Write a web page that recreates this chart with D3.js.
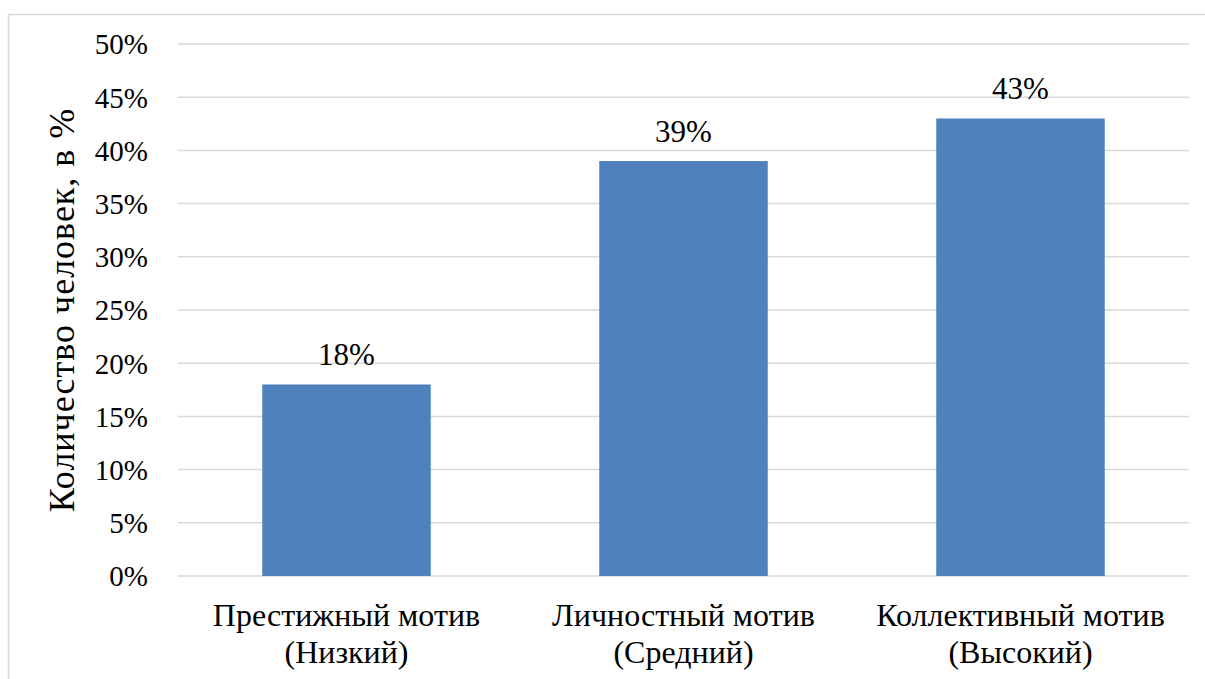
<!DOCTYPE html>
<html>
<head>
<meta charset="utf-8">
<script src="https://cdn.jsdelivr.net/npm/d3@7"></script>
<style>
  body { margin: 0; background: #fff; }
  svg text { font-family: "Times New Roman", "Liberation Serif", "DejaVu Serif", serif; fill: #000; }
</style>
</head>
<body>
<div id="chart"></div>
<script>
// data
const categories = ["Престижный мотив|(Низкий)", "Личностный мотив|(Средний)", "Коллективный мотив|(Высокий)"];
const values = [18, 39, 43];
const yTicks = [0, 5, 10, 15, 20, 25, 30, 35, 40, 45, 50];
const yTitle = "Количество человек, в %";

const width = 1205;
const height = 679;
const margin = { top: 44, right: 16, bottom: 103, left: 178 };

const svg = d3.select("#chart")
	.append("svg")
	.attr("width", width)
	.attr("height", height);

// outer frame
svg.append("rect")
	.attr("x", 8.5)
	.attr("y", 14.5)
	.attr("width", width + 10)
	.attr("height", height + 10)
	.attr("fill", "none")
	.attr("stroke", "#d9d9d9")
	.attr("stroke-width", 1.5);

const x = d3.scaleBand()
	.domain(categories)
	.range([margin.left, width - margin.right])
	.paddingInner(0.5)
	.paddingOuter(0.25);

const y = d3.scaleLinear()
	.domain([0, 50])
	.range([height - margin.bottom, margin.top]);

// gridlines
svg.append("g")
	.selectAll("line")
	.data(yTicks)
	.join("line")
	.attr("x1", margin.left)
	.attr("x2", width - margin.right)
	.attr("y1", d => y(d))
	.attr("y2", d => y(d))
	.attr("stroke", "#d9d9d9")
	.attr("stroke-width", 1.5);

// y tick labels
svg.append("g")
	.selectAll("text")
	.data(yTicks)
	.join("text")
	.attr("x", 148)
	.attr("y", d => y(d))
	.attr("dy", "0.36em")
	.attr("text-anchor", "end")
	.style("font-size", "29px")
	.text(d => d + "%");

// bars
svg.append("g")
	.selectAll("rect")
	.data(values)
	.join("rect")
	.attr("x", (d, i) => x(categories[i]))
	.attr("width", x.bandwidth())
	.attr("y", d => y(d))
	.attr("height", d => y(0) - y(d))
	.attr("fill", "#4f81bd");

// data labels
svg.append("g")
	.selectAll("text")
	.data(values)
	.join("text")
	.attr("x", (d, i) => x(categories[i]) + x.bandwidth() / 2)
	.attr("y", d => y(d) - 19)
	.attr("text-anchor", "middle")
	.style("font-size", "31px")
	.text(d => d + "%");

// category labels
const catLabels = svg.append("g")
	.selectAll("text")
	.data(categories)
	.join("text")
	.attr("x", d => x(d) + x.bandwidth() / 2)
	.attr("y", 626)
	.attr("text-anchor", "middle")
	.style("font-size", "32px");

catLabels.selectAll("tspan")
	.data(d => d.split("|"))
	.join("tspan")
	.attr("x", function() { return this.parentNode.getAttribute("x"); })
	.attr("dy", (d, i) => i === 0 ? 0 : 37)
	.text(d => d);

// y axis title
svg.append("text")
	.attr("transform", `translate(74, ${(y(0) + y(50)) / 2}) rotate(-90)`)
	.attr("text-anchor", "middle")
	.style("font-size", "36px")
	.style("letter-spacing", "1px")
	.text(yTitle);
</script>
</body>
</html>
